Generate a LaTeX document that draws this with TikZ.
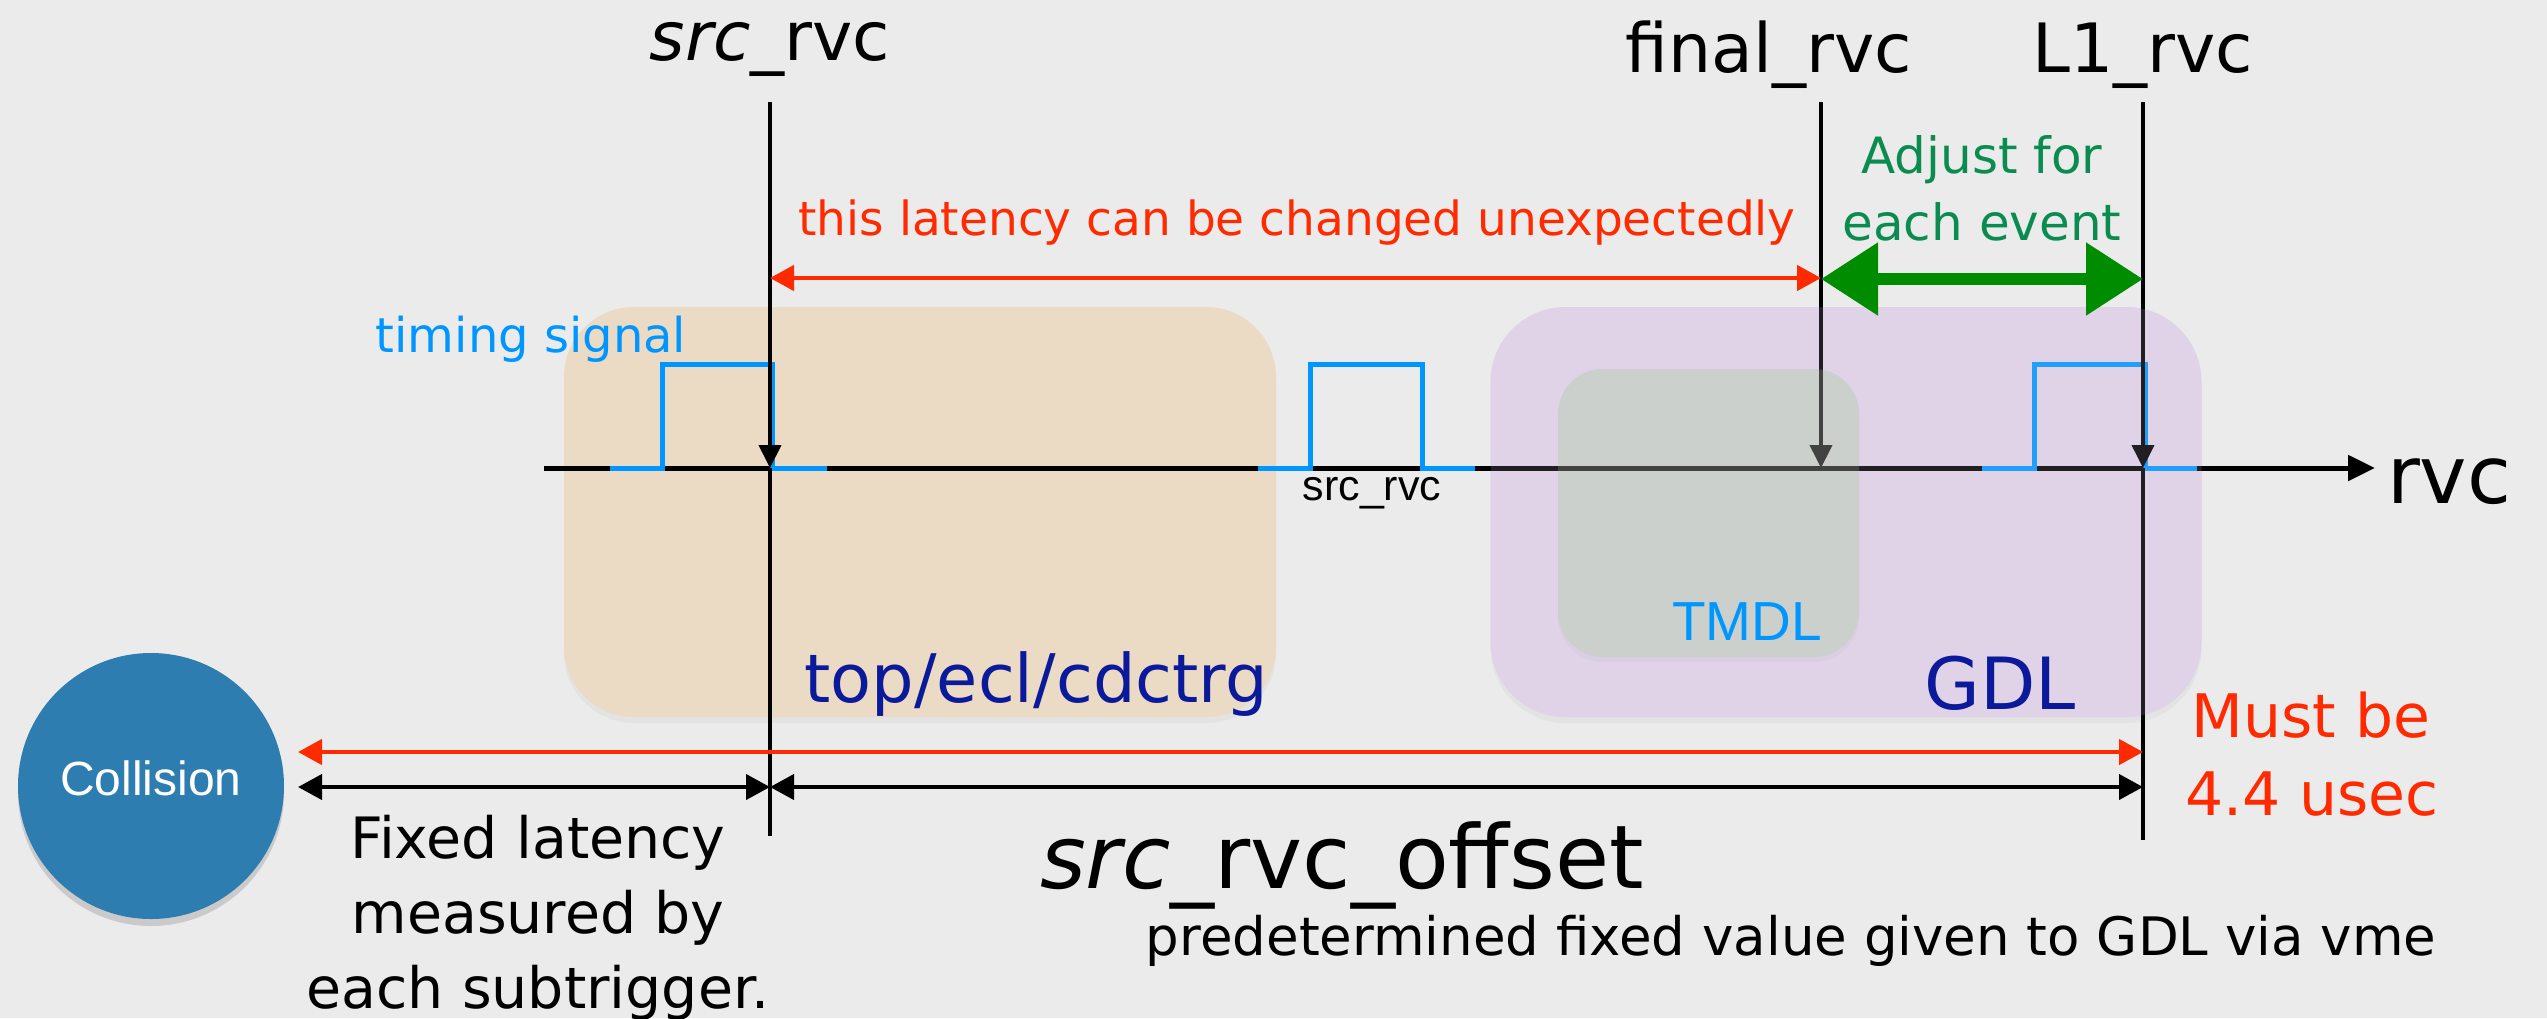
\documentclass[tikz,border=0pt]{standalone}
\usepackage{fontspec}
\setmainfont{DejaVu Sans}
\newfontfamily\arialf{Liberation Sans}
\usetikzlibrary{arrows.meta,shadows}
\definecolor{bgc}{HTML}{EBEBEB}
\definecolor{orbox}{HTML}{EBDAC4}
\definecolor{pubox}{HTML}{E0D3E8}
\definecolor{tmbox}{HTML}{CAD0C9}
\definecolor{redc}{HTML}{FF2A00}
\definecolor{grarrow}{HTML}{008C00}
\definecolor{grtext}{HTML}{0A8C50}
\definecolor{bluec}{HTML}{0096FF}
\definecolor{navyc}{HTML}{0A1A9A}
\definecolor{collc}{HTML}{2E7DB0}
\newcommand{\myfs}[1]{\fontsize{#1pt}{#1pt}\selectfont}
\begin{document}
\begin{tikzpicture}[x=1pt,y=-1pt,
  txt/.style={inner sep=0pt,outer sep=0pt,anchor=base},
  region/.style={rounded corners=#1,inner sep=0pt,outer sep=0pt,draw=none},
  blackline/.style={line width=4pt,black},
  downtip/.style={blackline,-{Triangle[length=23pt,width=22pt]}},
  pulse/.style={line width=5pt,bluec,line join=miter,line cap=butt},
  redarr/.style={line width=4.5pt,redc,{Triangle[length=24pt,width=25pt]}-{Triangle[length=24pt,width=25pt]}},
  blkarr/.style={line width=4pt,black,{Triangle[length=24pt,width=25pt]}-{Triangle[length=24pt,width=25pt]}},
  grnarr/.style={line width=12pt,grarrow,{Triangle[length=57pt,width=70pt]}-{Triangle[length=57pt,width=70pt]}},
  boxshadow/.style={drop shadow={opacity=0.07,shadow xshift=0pt,shadow yshift=-6pt}},
]
\useasboundingbox (0,0) rectangle (2547,1018);
\clip (0,0) rectangle (2547,1018);
\fill[bgc] (0,0) rectangle (2547,1018);

% regions
\node[region=70pt,fill=orbox,boxshadow,minimum width=712pt,minimum height=410pt] (subtrg) at (920,512) {};
\node[region=75pt,fill=pubox,boxshadow,minimum width=711pt,minimum height=410pt] (gdlbox) at (1846,512) {};
\node[region=45pt,fill=tmbox,drop shadow={opacity=0.06,shadow xshift=0pt,shadow yshift=-5pt},minimum width=301pt,minimum height=288pt] (tmdlbox) at (1708.5,513) {};

% collision
\node[circle,fill=collc,minimum size=266pt,inner sep=0pt,
  drop shadow={opacity=0.3,shadow xshift=0pt,shadow yshift=-7pt}] (coll) at (151,786) {};
\node[txt,text=white,font={\arialf\myfs{48}}] (colltxt) at (151,795) {Collision};

% coordinates
\coordinate (srcT) at (770,102);
\coordinate (srcA) at (770,468);
\coordinate (srcB) at (770,836);
\coordinate (finT) at (1821,102);
\coordinate (finA) at (1821,468);
\coordinate (lT) at (2143,102);
\coordinate (lA) at (2143,468);
\coordinate (lB) at (2143,840);
\coordinate (axL) at (544,468);
\coordinate (axR) at (2375,468);
\coordinate (chgL) at (770,278);
\coordinate (chgR) at (1821,278);
\coordinate (adjL) at (1821,279);
\coordinate (adjR) at (2143,279);
\coordinate (totL) at (298,752);
\coordinate (totR) at (2143,752);
\coordinate (fixL) at (298,787);
\coordinate (fixM) at (770,787);
\coordinate (fixR) at (2143,787);

% axis
\draw[line width=5pt,black,-{Triangle[length=27pt,width=25pt]}] (axL) -- (axR);

% pulses
\draw[pulse] (610,468) -- (662,468) -- (662,364) -- (772,364) -- (772,468) -- (827,468);
\draw[pulse] (1258,468) -- (1310,468) -- (1310,364) -- (1422,364) -- (1422,468) -- (1475,468);
\draw[pulse] (1982,468) -- (2034,468) -- (2034,364) -- (2145,364) -- (2145,468) -- (2197,468);

% vertical lines
\draw[downtip] (srcT) -- (srcA);
\draw[blackline] (srcA) -- (srcB);
\draw[downtip] (finT) -- (finA);
\draw[downtip] (lT) -- (lA);
\draw[blackline] (lA) -- (lB);

% tints on top of lines inside GDL / TMDL
\node[region=75pt,fill=pubox,fill opacity=0.15,minimum width=711pt,minimum height=410pt] (gdltint) at (1846,512) {};
\node[region=45pt,fill=tmbox,fill opacity=0.2,minimum width=301pt,minimum height=288pt] (tmdltint) at (1708.5,513) {};

% arrows
\draw[redarr] (chgL) -- (chgR);
\draw[grnarr] (adjL) -- (adjR);
\draw[redarr] (totL) -- (totR);
\draw[blkarr] (fixL) -- (fixM);
\draw[blkarr] (fixM) -- (fixR);

% labels
\node[txt,font={\myfs{68}}] (lsrc) at (770,60) {\textit{src}\_rvc};
\node[txt,font={\myfs{68}}] (lfin) at (1769,72) {final\_rvc};
\node[txt,font={\myfs{68}}] (ll1) at (2143,72) {L1\_rvc};
\node[txt,anchor=base west,font={\myfs{80}}] (lrvc) at (2387,503) {rvc};
\node[txt,font={\myfs{47}},text=redc] (lchg) at (1297,235) {this latency can be changed unexpectedly};
\node[txt,font={\myfs{50}},text=grtext] (ladj1) at (1982,173) {Adjust for};
\node[txt,font={\myfs{50}},text=grtext] (ladj2) at (1982,240) {each event};
\node[txt,font={\myfs{48}},text=bluec] (ltim) at (531,352) {timing signal};
\node[txt,font={\arialf\myfs{43}}] (lsmall) at (1372,500) {src\_rvc};
\node[txt,font={\myfs{67}},text=navyc] (ltop) at (1036,702) {top/ecl/cdctrg};
\node[txt,font={\myfs{72}},text=navyc] (lgdl) at (2000,709) {GDL};
\node[txt,font={\arialf\myfs{55}},text=bluec] (ltmdl) at (1747,640) {TMDL};
\node[txt,font={\myfs{60}},text=redc] (lmust1) at (2311,737) {Must be};
\node[txt,font={\myfs{60}},text=redc] (lmust2) at (2312,815) {4.4 usec};
\node[txt,font={\myfs{88}}] (loff) at (1342,888) {\textit{src}\_rvc\_offset};
\node[txt,font={\myfs{53}}] (lpre) at (1791,955) {predetermined fixed value given to GDL via vme};
\node[txt,font={\myfs{57}}] (lfix1) at (538,858) {Fixed latency};
\node[txt,font={\myfs{57}}] (lfix2) at (538,933) {measured by};
\node[txt,font={\myfs{57}}] (lfix3) at (538,1008) {each subtrigger.};
\end{tikzpicture}
\end{document}
